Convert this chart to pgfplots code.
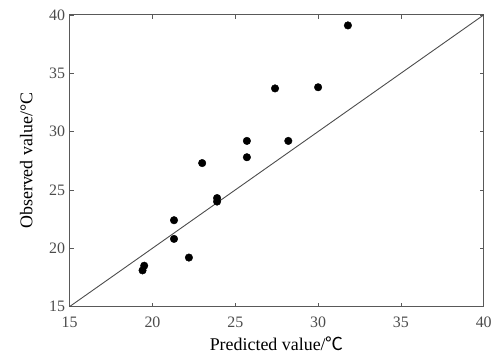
\documentclass[border=0pt]{standalone}
\usepackage{pgfplots}
\pgfplotsset{compat=1.18}
\usepackage{fontspec}
\setmainfont{Liberation Serif}
\newfontfamily\cjk{Noto Sans CJK SC}
\begin{document}
\begin{tikzpicture}
\begin{axis}[name=ax,
  scale only axis, width=416pt, height=293pt,
  xmin=15, xmax=40, ymin=15, ymax=40,
  xtick={15,20,...,40}, ytick={15,20,...,40},
  tick align=inside, major tick length=4pt,
  axis line style={draw=black!65, line width=1pt},
  tick style={black!65, line width=0.8pt},
  tick label style={font=\fontsize{16}{16}\selectfont, text=black!70},
  /pgf/number format/assume math mode=true,
  xlabel={Predicted value/{\cjk ℃}},
  ylabel={Observed value/°C},
  label style={font=\fontsize{18}{18}\selectfont},
  xlabel style={yshift=-2pt},
  ylabel style={yshift=10pt},
  xticklabel style={yshift=-7pt},
  yticklabel style={xshift=-1pt},
  clip=false,
]
\addplot[black!70, line width=0.9pt] coordinates {(15,15) (40,40)};
\addplot[only marks, mark=*, mark size=3.8pt, black] coordinates {
(31.8,39.1) (27.4,33.7) (30.0,33.8) (25.7,29.2) (28.2,29.2) (25.7,27.8)
(23.0,27.3) (23.9,24.3) (23.9,24.0) (21.3,22.4) (21.3,20.8) (22.2,19.2)
(19.5,18.5) (19.4,18.1)};
\end{axis}
\path[use as bounding box] ([xshift=-70pt,yshift=-55pt]ax.south west) rectangle ([xshift=9pt,yshift=15pt]ax.north east);
\end{tikzpicture}
\end{document}
